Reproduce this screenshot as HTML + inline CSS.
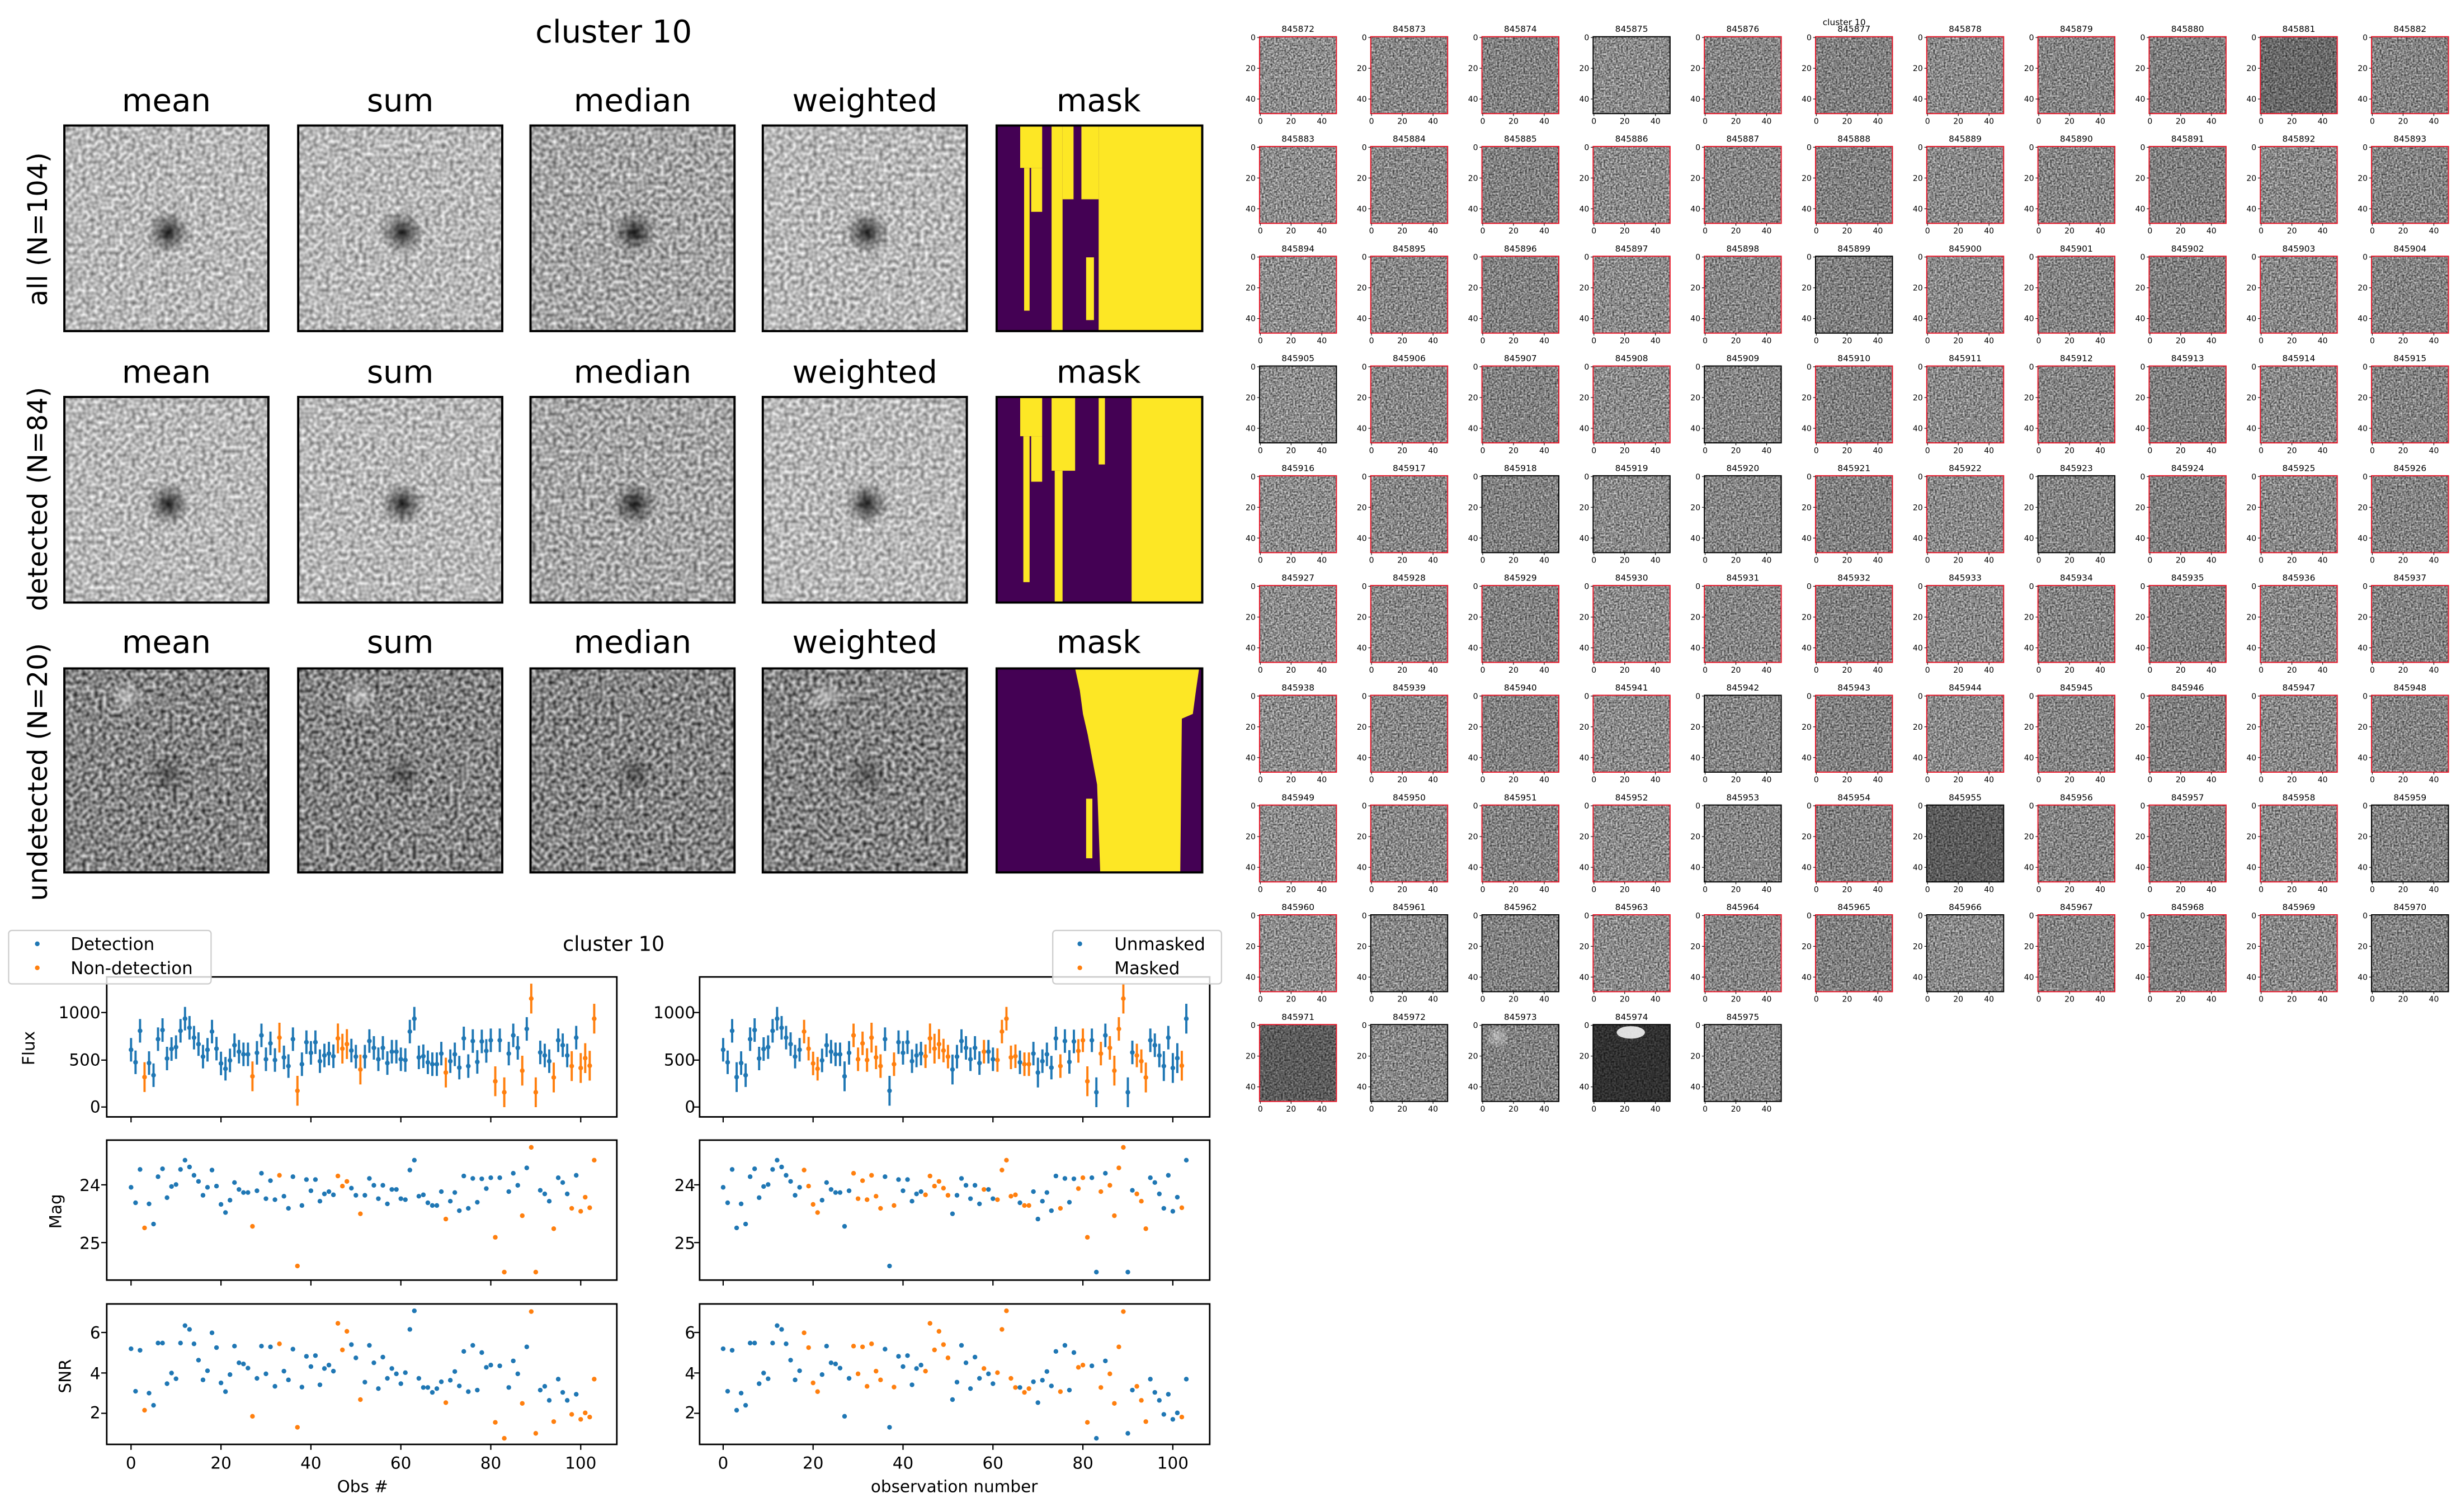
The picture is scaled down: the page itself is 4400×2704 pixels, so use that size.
<!DOCTYPE html>
<html><head><meta charset="utf-8"><style>
html,body{margin:0;padding:0;background:#fff}
svg{display:block}
text{font-family:"DejaVu Sans","Liberation Sans",sans-serif}
</style></head><body>
<svg id="s" xmlns="http://www.w3.org/2000/svg" width="4400" height="2704" viewBox="0 0 1568 963.6" preserveAspectRatio="none">
<defs>
<filter id="fl" x="0" y="0" width="1" height="1" color-interpolation-filters="sRGB"><feTurbulence type="fractalNoise" baseFrequency="0.38" numOctaves="1" seed="2"/><feColorMatrix type="matrix" values="0.8 0 0 0 0.32 0.8 0 0 0 0.32 0.8 0 0 0 0.32 0 0 0 0 1"/></filter>
<filter id="fm" x="0" y="0" width="1" height="1" color-interpolation-filters="sRGB"><feTurbulence type="fractalNoise" baseFrequency="0.38" numOctaves="1" seed="5"/><feColorMatrix type="matrix" values="0.9 0 0 0 0.2 0.9 0 0 0 0.2 0.9 0 0 0 0.2 0 0 0 0 1"/></filter>
<filter id="fu" x="0" y="0" width="1" height="1" color-interpolation-filters="sRGB"><feTurbulence type="fractalNoise" baseFrequency="0.38" numOctaves="1" seed="9"/><feColorMatrix type="matrix" values="1.1 0 0 0 -0.03 1.1 0 0 0 -0.03 1.1 0 0 0 -0.03 0 0 0 0 1"/></filter>
<filter id="ft" x="0" y="0" width="1" height="1" color-interpolation-filters="sRGB"><feTurbulence type="fractalNoise" baseFrequency="0.9" numOctaves="1" seed="4"/><feColorMatrix type="matrix" values="1.1 0 0 0 0.0 1.1 0 0 0 0.0 1.1 0 0 0 0.0 0 0 0 0 1"/></filter>
<radialGradient id="blob"><stop offset="0" stop-color="#000" stop-opacity="0.85"/><stop offset="0.45" stop-color="#000" stop-opacity="0.4"/><stop offset="1" stop-color="#000" stop-opacity="0"/></radialGradient>
<radialGradient id="wblob"><stop offset="0" stop-color="#fff" stop-opacity="0.45"/><stop offset="1" stop-color="#fff" stop-opacity="0"/></radialGradient>
</defs>

<text x="391" y="27" font-size="20" text-anchor="middle">cluster 10</text>
<g font-size="20" text-anchor="middle">
<text x="106" y="71">mean</text><text x="255" y="71">sum</text><text x="403" y="71">median</text><text x="551" y="71">weighted</text><text x="700" y="71">mask</text>
<text x="106" y="244">mean</text><text x="255" y="244">sum</text><text x="403" y="244">median</text><text x="551" y="244">weighted</text><text x="700" y="244">mask</text>
<text x="106" y="416">mean</text><text x="255" y="416">sum</text><text x="403" y="416">median</text><text x="551" y="416">weighted</text><text x="700" y="416">mask</text>
</g>
<g font-size="17" text-anchor="middle">
<text transform="translate(30,146) rotate(-90)">all (N=104)</text>
<text transform="translate(30,318) rotate(-90)">detected (N=84)</text>
<text transform="translate(30,492) rotate(-90)">undetected (N=20)</text>
</g>
<g id="panels"></g>

<g>
<rect x="635" y="80" width="131" height="131" fill="#440154"/>
<g fill="#fde725">
<rect x="650" y="80" width="14" height="27"/><rect x="657" y="107" width="7" height="28"/><rect x="652.5" y="107" width="3.5" height="91"/>
<rect x="670" y="80" width="7" height="131"/><rect x="677" y="80" width="7" height="47"/><rect x="689" y="80" width="11" height="47"/>
<rect x="692" y="164" width="5" height="40"/><rect x="700" y="80" width="66" height="131"/>
</g>
<rect x="635" y="253" width="131" height="131" fill="#440154"/>
<g fill="#fde725">
<rect x="650" y="253" width="14" height="25"/><rect x="657" y="278" width="7" height="29"/><rect x="652" y="278" width="4" height="93"/>
<rect x="670" y="253" width="15" height="47"/><rect x="672" y="300" width="5" height="84"/><rect x="700" y="253" width="4" height="43"/>
<rect x="721" y="253" width="45" height="131"/>
</g>
<rect x="635" y="426" width="131" height="130" fill="#440154"/>
<polygon fill="#fde725" points="685,426 764,426 762,440 760,455 753,458 752,556 701,556 699,500 693,468 690,455 688,440"/>
<rect x="692" y="509" width="4" height="38" fill="#fde725"/>
<g fill="none" stroke="#000" stroke-width="1.4">
<rect x="635" y="80" width="131" height="131"/><rect x="635" y="253" width="131" height="131"/><rect x="635" y="426" width="131" height="130"/>
</g>
</g>

<text x="391" y="606" font-size="13" text-anchor="middle">cluster 10</text>
<g id="charts"></g>
<g font-size="10.5" text-anchor="end">
<text x="64" y="649">1000</text><text x="64" y="679">500</text><text x="64" y="709">0</text>
<text x="64" y="759">24</text><text x="64" y="796">25</text>
<text x="64" y="853">6</text><text x="64" y="879">4</text><text x="64" y="904">2</text>
<text x="443" y="649">1000</text><text x="443" y="679">500</text><text x="443" y="709">0</text>
<text x="443" y="759">24</text><text x="443" y="796">25</text>
<text x="443" y="853">6</text><text x="443" y="879">4</text><text x="443" y="904">2</text>
</g>
<g font-size="10.5" text-anchor="middle">
<text x="83.5" y="936">0</text><text x="140.8" y="936">20</text><text x="198.1" y="936">40</text><text x="255.4" y="936">60</text><text x="312.7" y="936">80</text><text x="370" y="936">100</text>
<text x="460.75" y="936">0</text><text x="518.05" y="936">20</text><text x="575.35" y="936">40</text><text x="632.65" y="936">60</text><text x="689.95" y="936">80</text><text x="747.25" y="936">100</text>
<text x="231" y="951">Obs #</text><text x="608" y="951">observation number</text>
<text transform="translate(22,668) rotate(-90)">Flux</text>
<text transform="translate(39,772) rotate(-90)">Mag</text>
<text transform="translate(45,877) rotate(-90)">SNR</text>
</g>
<g>
<rect x="5.5" y="593" width="129" height="34" rx="2" fill="#fff" fill-opacity="0.8" stroke="#ccc" stroke-width="0.8"/>
<circle cx="23.75" cy="601.5" r="1.5" fill="#1f77b4"/><circle cx="23.75" cy="616.8" r="1.5" fill="#ff7f0e"/>
<text x="45" y="605.5" font-size="11">Detection</text><text x="45" y="620.8" font-size="11">Non-detection</text>
</g>

<g id="thumbs"></g>
<text x="1175" y="16" font-size="5.5" text-anchor="middle">cluster 10</text>
<g font-size="5.5" text-anchor="middle">
<g transform="translate(0,20.4)"><text x="827">845872</text><text x="897.85">845873</text><text x="968.7">845874</text><text x="1039.55">845875</text><text x="1110.4">845876</text><text x="1181.25">845877</text><text x="1252.1">845878</text><text x="1322.95">845879</text><text x="1393.8">845880</text><text x="1464.65">845881</text><text x="1535.5">845882</text></g>
<g transform="translate(0,90.35)"><text x="827">845883</text><text x="897.85">845884</text><text x="968.7">845885</text><text x="1039.55">845886</text><text x="1110.4">845887</text><text x="1181.25">845888</text><text x="1252.1">845889</text><text x="1322.95">845890</text><text x="1393.8">845891</text><text x="1464.65">845892</text><text x="1535.5">845893</text></g>
<g transform="translate(0,160.3)"><text x="827">845894</text><text x="897.85">845895</text><text x="968.7">845896</text><text x="1039.55">845897</text><text x="1110.4">845898</text><text x="1181.25">845899</text><text x="1252.1">845900</text><text x="1322.95">845901</text><text x="1393.8">845902</text><text x="1464.65">845903</text><text x="1535.5">845904</text></g>
<g transform="translate(0,230.25)"><text x="827">845905</text><text x="897.85">845906</text><text x="968.7">845907</text><text x="1039.55">845908</text><text x="1110.4">845909</text><text x="1181.25">845910</text><text x="1252.1">845911</text><text x="1322.95">845912</text><text x="1393.8">845913</text><text x="1464.65">845914</text><text x="1535.5">845915</text></g>
<g transform="translate(0,300.2)"><text x="827">845916</text><text x="897.85">845917</text><text x="968.7">845918</text><text x="1039.55">845919</text><text x="1110.4">845920</text><text x="1181.25">845921</text><text x="1252.1">845922</text><text x="1322.95">845923</text><text x="1393.8">845924</text><text x="1464.65">845925</text><text x="1535.5">845926</text></g>
<g transform="translate(0,370.15)"><text x="827">845927</text><text x="897.85">845928</text><text x="968.7">845929</text><text x="1039.55">845930</text><text x="1110.4">845931</text><text x="1181.25">845932</text><text x="1252.1">845933</text><text x="1322.95">845934</text><text x="1393.8">845935</text><text x="1464.65">845936</text><text x="1535.5">845937</text></g>
<g transform="translate(0,440.1)"><text x="827">845938</text><text x="897.85">845939</text><text x="968.7">845940</text><text x="1039.55">845941</text><text x="1110.4">845942</text><text x="1181.25">845943</text><text x="1252.1">845944</text><text x="1322.95">845945</text><text x="1393.8">845946</text><text x="1464.65">845947</text><text x="1535.5">845948</text></g>
<g transform="translate(0,510.05)"><text x="827">845949</text><text x="897.85">845950</text><text x="968.7">845951</text><text x="1039.55">845952</text><text x="1110.4">845953</text><text x="1181.25">845954</text><text x="1252.1">845955</text><text x="1322.95">845956</text><text x="1393.8">845957</text><text x="1464.65">845958</text><text x="1535.5">845959</text></g>
<g transform="translate(0,580)"><text x="827">845960</text><text x="897.85">845961</text><text x="968.7">845962</text><text x="1039.55">845963</text><text x="1110.4">845964</text><text x="1181.25">845965</text><text x="1252.1">845966</text><text x="1322.95">845967</text><text x="1393.8">845968</text><text x="1464.65">845969</text><text x="1535.5">845970</text></g>
<g transform="translate(0,649.95)"><text x="827">845971</text><text x="897.85">845972</text><text x="968.7">845973</text><text x="1039.55">845974</text><text x="1110.4">845975</text></g>
</g>
</svg>
<script>
(function(){
var NS='http://www.w3.org/2000/svg';
function el(t,a,p,tx){var e=document.createElementNS(NS,t);for(var k in a)e.setAttribute(k,a[k]);if(tx!==undefined)e.textContent=tx;p.appendChild(e);return e;}
var P=document.getElementById('panels');
var cols=[41,190,338,486],rows=[80,253,426];
for(var r=0;r<3;r++)for(var c=0;c<4;c++){
 var x=cols[c],y=rows[r],w=130,h=(r==2?130:131);
 var f=r==2?'fu':(c==2?'fm':'fl');
 el('rect',{x:x,y:y,width:w,height:h,fill:'#888',filter:'url(#'+f+')'},P);
 if(r==2&&c!=2)el('circle',{cx:x+w*0.3,cy:y+h*0.14,r:11,fill:'url(#wblob)'},P);
 el('circle',{cx:x+w*0.51,cy:y+h*0.52,r:r==2?13:14,fill:'url(#blob)',opacity:r==2?0.5:1},P);
 el('rect',{x:x,y:y,width:w,height:h,fill:'none',stroke:'#000','stroke-width':1.4},P);
}
var fy=[350,383,300,422,385,417,322,298,373,348,343,300,268,292,318,335,368,350,302,347,386,400,378,338,355,362,362,420,358,312,375,333,377,318,370,393,322,458,388,330,358,330,380,365,360,367,320,347,335,352,368,402,368,327,345,375,345,385,355,355,375,377,302,268,370,367,383,388,388,360,410,380,362,397,320,393,327,382,328,353,325,433,325,462,360,312,345,405,295,215,462,357,365,380,423,325,338,365,393,318,398,372,392,268];
var sy=[1138,1250,1142,1300,1255,1287,1123,1123,1230,1202,1217,1123,1077,1087,1125,1168,1220,1196,1096,1135,1228,1251,1206,1131,1175,1178,1189,1316,1216,1131,1204,1133,1237,1125,1197,1220,1139,1345,1239,1158,1185,1156,1233,1190,1181,1197,1071,1141,1092,1127,1162,1272,1226,1129,1175,1243,1160,1216,1190,1204,1230,1201,1087,1038,1216,1240,1240,1253,1243,1225,1280,1221,1198,1236,1145,1251,1129,1247,1148,1187,1181,1332,1183,1374,1240,1170,1204,1282,1133,1040,1361,1247,1237,1274,1330,1218,1253,1274,1311,1258,1324,1307,1318,1218];
var nd=[3,27,33,37,46,47,48,51,70,81,83,87,89,90,94,98,100,101,102,103];
var mk=[18,19,20,21,29,30,31,32,33,34,35,38,45,46,47,48,49,50,58,61,62,63,64,65,67,68,75,79,80,81,84,86,87,88,89,92,93,94,102];
var C=document.getElementById('charts');
var B='#1f77b4',O='#ff7f0e';
function Y(z){return 584.4+0.2418*z;}
[[68,83.5,nd],[445.75,460.75,mk]].forEach(function(cfg){
 var x0=cfg[0],xb=cfg[1],set=cfg[2];
 [[622.6,711.8],[726.6,815.8],[831,920.5]].forEach(function(p){
  el('rect',{x:x0,y:p[0],width:325,height:p[1]-p[0],fill:'#fff',stroke:'#000','stroke-width':1},C);
  for(var v=0;v<=100;v+=20)el('line',{x1:xb+2.865*v,x2:xb+2.865*v,y1:p[1],y2:p[1]+3.5,stroke:'#000','stroke-width':0.8},C);
 });
 [705.5,675.6,645.3,755.1,791.9,849.2,875,900.7].forEach(function(q){el('line',{x1:x0-3.5,x2:x0,y1:q,y2:q,stroke:'#000','stroke-width':0.8},C);});
 for(var i=0;i<104;i++){
  var o=set.indexOf(i)>=0,col=o?O:B,x=xb+2.865*i;
  var yf=Y(fy[i]),e=(nd.indexOf(i)>=0?9.5:7.5);
  el('line',{x1:x,x2:x,y1:yf-e,y2:yf+e,stroke:col,'stroke-width':1.4},C);
  el('circle',{cx:x,cy:yf,r:1.5,fill:col},C);
  var f=(501-fy[i])*4.016; var m=31.0-2.5*Math.log10(Math.max(f,20));
  el('circle',{cx:x,cy:Y(706+(m-24)*152),r:1.5,fill:col},C);
  el('circle',{cx:x,cy:Y(sy[i]),r:1.5,fill:col},C);
 }
});
var lg=el('g',{},C);
el('rect',{x:670.75,y:593,width:107.5,height:34,rx:2,fill:'#fff','fill-opacity':0.8,stroke:'#ccc','stroke-width':0.8},lg);
el('circle',{cx:688,cy:601.5,r:1.5,fill:B},lg);el('circle',{cx:688,cy:616.8,r:1.5,fill:O},lg);
el('text',{x:710,y:605.5,'font-size':11},lg,'Unmasked');el('text',{x:710,y:620.8,'font-size':11},lg,'Masked');
var T=document.getElementById('thumbs');
for(var i=0;i<104;i++){
 var c=i%11,r=Math.floor(i/11),x=802.5+c*70.85,y=23.4+r*69.95;
 el('rect',{x:x,y:y,width:49,height:49,fill:'#888',filter:'url(#ft)'},T);
 var op=((i*37)%11)/110;
 if(i==83||i==99)op=0.35; if(i==102)op=0.65; if(i==9)op=0.25;
 el('rect',{x:x,y:y,width:49,height:49,fill:'#000',opacity:op},T);
 if(i==102)el('ellipse',{cx:x+24,cy:y+5,rx:9,ry:4,fill:'#fff',opacity:0.85},T);
 if(i==101)el('circle',{cx:x+10,cy:y+8,r:8,fill:'url(#wblob)'},T);
 el('rect',{x:x,y:y,width:49,height:49,fill:'none',stroke:(nd.indexOf(i)>=0?'#000':'#e8182a'),'stroke-width':0.7},T);
 [0.5,20.1,39.7].forEach(function(d,k){
  var lab=['0','20','40'][k];
  el('line',{x1:x-1.5,x2:x,y1:y+d,y2:y+d,stroke:'#000','stroke-width':0.4},T);
  el('text',{x:x-2.5,y:y+d+1.8,'font-size':5,'text-anchor':'end'},T,lab);
  el('line',{x1:x+d,x2:x+d,y1:y+49,y2:y+50.5,stroke:'#000','stroke-width':0.4},T);
  el('text',{x:x+d,y:y+55.5,'font-size':5,'text-anchor':'middle'},T,lab);
 });
}
})();
</script>
</body></html>
